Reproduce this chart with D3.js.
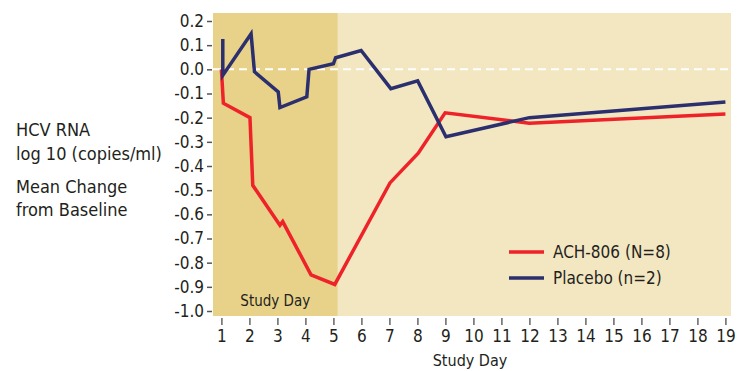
<!DOCTYPE html>
<html>
<head>
<meta charset="utf-8">
<script src="https://cdn.jsdelivr.net/npm/d3@7"></script>
<style>
  body { margin: 0; background: #fff; }
  text { font-family: "Liberation Sans Narrow", "DejaVu Sans Condensed", "Liberation Sans", sans-serif; fill: #231f20; }
</style>
</head>
<body>
<div id="chart"></div>
<script>
// Dữ liệu: ngày nghiên cứu và thay đổi trung bình log10 HCV RNA
const achDays   = [1.0, 1.07, 2.02, 2.12, 3.09, 3.19, 4.2, 5.05, 7.02, 8.03, 8.99, 12.0, 19.0];
const achValues = [0.0, -0.14, -0.2, -0.48, -0.645, -0.63, -0.85, -0.89, -0.47, -0.347, -0.18, -0.223, -0.185];

const placeboDays   = [1.05, 1.05, 2.06, 2.18, 3.03, 3.09, 4.05, 4.13, 5.0, 5.08, 5.99, 7.05, 8.01, 9.02, 12.0, 19.0];
const placeboValues = [0.126, -0.025, 0.147, -0.01, -0.093, -0.158, -0.114, 0.0, 0.023, 0.048, 0.078, -0.08, -0.048, -0.279, -0.2, -0.135];

const xTicks = d3.range(1, 20);
const yTicks = [0.2, 0.1, 0.0, -0.1, -0.2, -0.3, -0.4, -0.5, -0.6, -0.7, -0.8, -0.9, -1.0];
const dosingEnd = 5.15;

const series = [
    { name: "ACH-806 (N=8)", color: "#ee2229", days: achDays, values: achValues },
    { name: "Placebo (n=2)", color: "#2b2f6e", days: placeboDays, values: placeboValues }
];

const width = 752, height = 371;
const plot = { left: 213, right: 731, top: 13, bottom: 316 };

const svg = d3.select("#chart").append("svg")
    .attr("width", width)
    .attr("height", height);

const x = d3.scaleLinear().domain([0.7, 19.2]).range([plot.left, plot.right]);
const y = d3.scaleLinear().domain([0.2, -1.0]).range([21, 311]);

// Nền: vùng dùng thuốc (đậm) và phần còn lại (nhạt)
svg.append("rect")
    .attr("x", plot.left).attr("y", plot.top)
    .attr("width", plot.right - plot.left).attr("height", plot.bottom - plot.top)
    .attr("fill", "#f3e7c2");
svg.append("rect")
    .attr("x", plot.left).attr("y", plot.top)
    .attr("width", x(dosingEnd) - plot.left).attr("height", plot.bottom - plot.top)
    .attr("fill", "#e8d28a");

svg.append("text")
    .attr("x", (plot.left + x(dosingEnd)) / 2)
    .attr("y", 306)
    .attr("text-anchor", "middle")
    .attr("font-size", "15px")
    .text("Study Day");

// Đường cơ sở 0.0 (nét đứt trắng)
svg.append("line")
    .attr("x1", plot.left).attr("x2", plot.right)
    .attr("y1", y(0)).attr("y2", y(0))
    .attr("stroke", "#fff")
    .attr("stroke-width", 2)
    .attr("stroke-dasharray", "8,5");

// Trục Y
const yAxis = svg.append("g")
    .attr("transform", `translate(${plot.left - 1},0)`)
    .call(d3.axisLeft(y).tickValues(yTicks).tickSize(5).tickPadding(3)
        .tickFormat(d => d3.format(".1f")(d).replace("−", "-")));
yAxis.select(".domain").remove();
yAxis.selectAll(".tick line").attr("stroke", "#555").attr("stroke-width", 1.5);
yAxis.selectAll(".tick text").attr("font-size", "17px").attr("fill", "#231f20")
    .style("font-family", "\"Liberation Sans Narrow\", \"DejaVu Sans Condensed\", sans-serif");

// Trục X
const xAxis = svg.append("g")
    .attr("transform", `translate(0,${plot.bottom + 2})`)
    .call(d3.axisBottom(x).tickValues(xTicks).tickSize(7).tickPadding(5).tickFormat(d3.format("d")));
xAxis.select(".domain").remove();
xAxis.selectAll(".tick line").attr("stroke", "#666").attr("stroke-width", 1.5);
xAxis.selectAll(".tick text").attr("font-size", "17px").attr("fill", "#231f20")
    .style("font-family", "\"Liberation Sans Narrow\", \"DejaVu Sans Condensed\", sans-serif");

svg.append("text")
    .attr("x", 470)
    .attr("y", 366)
    .attr("text-anchor", "middle")
    .attr("font-size", "16px")
    .text("Study Day");

// Nhãn trục Y bên trái
const leftLabels = [["HCV RNA", 136], ["log 10 (copies/ml)", 160], ["Mean Change", 193], ["from Baseline", 216]];
leftLabels.forEach(([t, ty]) => {
    svg.append("text")
        .attr("x", 16)
        .attr("y", ty)
        .attr("font-size", "18px")
        .text(t);
});

// Các đường dữ liệu
const line = d3.line()
    .x(d => x(d[0]))
    .y(d => y(d[1]));

series.forEach(s => {
    svg.append("path")
        .datum(s.days.map((d, i) => [d, s.values[i]]))
        .attr("fill", "none")
        .attr("stroke", s.color)
        .attr("stroke-width", 3.5)
        .attr("stroke-linejoin", "miter")
        .attr("d", line);
});

// Chú thích
series.forEach((s, i) => {
    const ly = 252 + i * 26;
    svg.append("line")
        .attr("x1", 509).attr("x2", 544)
        .attr("y1", ly).attr("y2", ly)
        .attr("stroke", s.color)
        .attr("stroke-width", 3.5);
    svg.append("text")
        .attr("x", 553)
        .attr("y", ly + 6)
        .attr("font-size", "17px")
        .text(s.name);
});
</script>
</body>
</html>
